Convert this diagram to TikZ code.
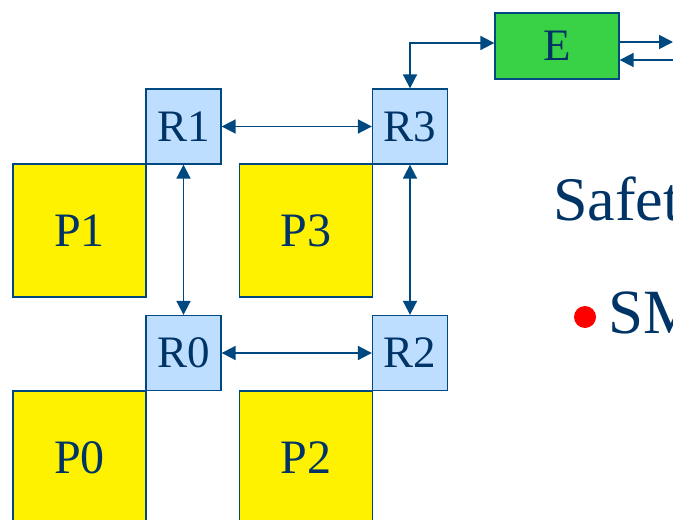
\documentclass[tikz,border=0pt]{standalone}
\usepackage{fontspec}
\setmainfont{Liberation Serif}
\usetikzlibrary{arrows.meta,positioning}
\definecolor{txtblue}{RGB}{0,51,102}
\definecolor{lineblue}{RGB}{0,72,128}
\definecolor{rfill}{RGB}{189,222,255}
\definecolor{efill}{RGB}{57,210,70}
\tikzset{
  rbox/.style={draw=lineblue, line width=1.3bp, fill=rfill, text=txtblue, minimum width=75bp, minimum height=75bp, inner sep=0pt, font=\fontsize{45bp}{45bp}\selectfont},
  pbox/.style={draw=lineblue, line width=1.3bp, fill=yellow, text=txtblue, minimum width=133bp, minimum height=133bp, inner sep=0pt, font=\fontsize{48bp}{48bp}\selectfont},
  ebox/.style={draw=lineblue, line width=1.3bp, fill=efill, text=txtblue, minimum width=124bp, minimum height=66bp, inner sep=0pt, font=\fontsize{45bp}{45bp}\selectfont},
  link/.style={draw=lineblue, line width=1.8bp, {Triangle[length=14bp,width=14bp]}-{Triangle[length=14bp,width=14bp]}},
  onelink/.style={draw=lineblue, line width=1.8bp, -{Triangle[length=14bp,width=14bp]}},
  bigtext/.style={text=txtblue, inner sep=0pt, anchor=base west, font=\fontsize{62bp}{62bp}\selectfont}
}
\begin{document}
\begin{tikzpicture}[x=1bp,y=-1bp]
\useasboundingbox (0,0) rectangle (673,520);
\clip (0,0) rectangle (673,520);
% processors
\node[pbox] (P1) at (79.5,230.5) {P1};
\node[pbox] (P3) at (306,230.5) {P3};
\node[pbox] (P0) at (79.5,457.5) {P0};
\node[pbox] (P2) at (306,457.5) {P2};
% routers
\node[rbox] (R1) at (183.5,126.5) {R1};
\node[rbox] (R3) at (410,126.5) {R3};
\node[rbox] (R0) at (183.5,353) {R0};
\node[rbox] (R2) at (410,353) {R2};
% E
\node[ebox] (E) at (557,46) {E};
\coordinate (eout) at (673,42);
\coordinate (ein) at (680,60);
% links
\draw[link] (R1) -- (R3);
\draw[link] (R0) -- (R2);
\draw[link] (R1) -- (R0);
\draw[link] (R3) -- (R2);
\draw[link] (R3.north) |- ([yshift=3bp]E.west);
\draw[onelink] ([yshift=4bp]E.east) -- (eout);
\draw[onelink] (ein) -- ([yshift=-14bp]E.east);
% text
\node[bigtext] (safety) at (553,221) {Safet};
\fill[red] (585,317) circle (11);
\node[bigtext, font=\fontsize{63bp}{63bp}\selectfont] (sm) at (608,333) {SM};
\end{tikzpicture}
\end{document}
